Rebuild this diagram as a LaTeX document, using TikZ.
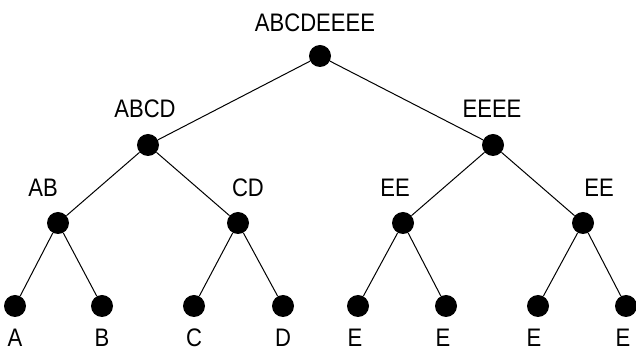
\documentclass[tikz,border=0pt]{standalone}
\usepackage{fontspec}
\setmainfont{Liberation Sans}
\newfontfamily\lblfont[FakeStretch=0.87]{Liberation Sans}
\begin{document}
\begin{tikzpicture}[x=0.75pt,y=-0.75pt,
  dot/.style={circle,fill=black,inner sep=0pt,minimum size=16.5pt},
  lbl/.style={font=\lblfont\fontsize{19}{22}\selectfont,inner sep=0pt},
  edge/.style={line width=0.75pt}]
\useasboundingbox (0,0) rectangle (636,352);
\node[dot] (r) at (320,56) {};
\node[dot] (l) at (148,145) {};
\node[dot] (rr) at (493,145) {};
\node[dot] (ab) at (58,223) {};
\node[dot] (cd) at (238,223) {};
\node[dot] (e1) at (403,223) {};
\node[dot] (e2) at (583,223) {};
\node[dot] (a) at (15,306) {};
\node[dot] (b) at (102,306) {};
\node[dot] (c) at (194,306) {};
\node[dot] (d) at (283,306) {};
\node[dot] (f1) at (358,306) {};
\node[dot] (f2) at (446,306) {};
\node[dot] (f3) at (538,306) {};
\node[dot] (f4) at (626,306) {};
\draw[edge] (r) -- (l); \draw[edge] (r) -- (rr);
\draw[edge] (l) -- (ab); \draw[edge] (l) -- (cd);
\draw[edge] (rr) -- (e1); \draw[edge] (rr) -- (e2);
\draw[edge] (ab) -- (a); \draw[edge] (ab) -- (b);
\draw[edge] (cd) -- (c); \draw[edge] (cd) -- (d);
\draw[edge] (e1) -- (f1); \draw[edge] (e1) -- (f2);
\draw[edge] (e2) -- (f3); \draw[edge] (e2) -- (f4);
\node[lbl] (tr) at (315,23) {ABCDEEEE};
\node[lbl] (tl) at (145,109) {ABCD};
\node[lbl] (trr) at (492,109) {EEEE};
\node[lbl] (tab) at (43,188) {AB};
\node[lbl] (tcd) at (248,188) {CD};
\node[lbl] (te1) at (395,188) {EE};
\node[lbl] (te2) at (599,188) {EE};
\node[lbl] (ta) at (15,338) {A};
\node[lbl] (tb) at (102,338) {B};
\node[lbl] (tc) at (194,338) {C};
\node[lbl] (td) at (283,338) {D};
\node[lbl] (tf1) at (355,338) {E};
\node[lbl] (tf2) at (443,338) {E};
\node[lbl] (tf3) at (534,338) {E};
\node[lbl] (tf4) at (623,338) {E};
\end{tikzpicture}
\end{document}
